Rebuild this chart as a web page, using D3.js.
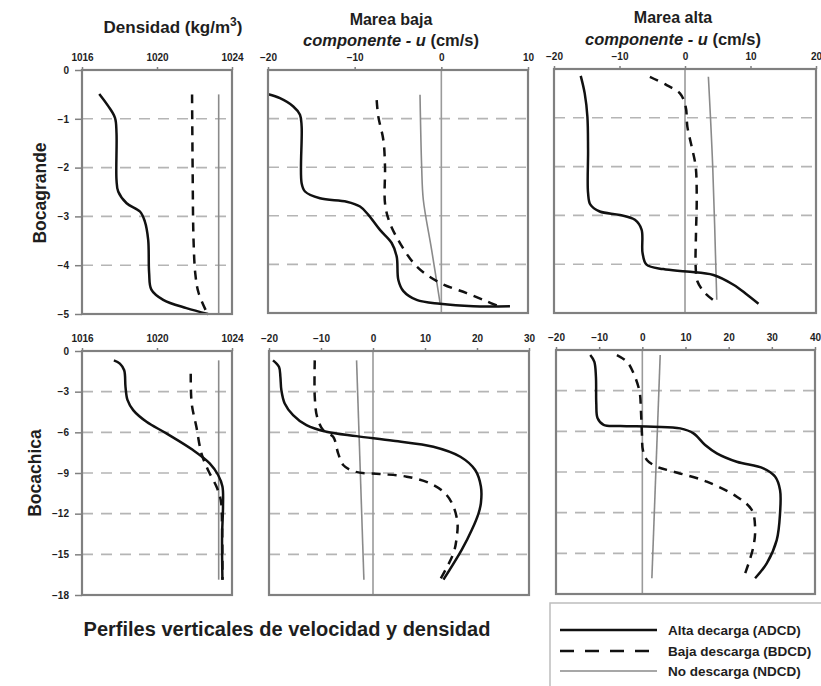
<!DOCTYPE html>
<html><head><meta charset="utf-8">
<script src="https://cdn.jsdelivr.net/npm/d3@7"></script>
<style>body{margin:0;background:#fff}svg{display:block;font-family:"Liberation Sans",Arial,sans-serif}</style>
</head><body><svg id="c" width="821" height="686"></svg>
<script>
// ---------- tick labels ----------
const depthTicksTop = [0,-1,-2,-3,-4,-5];
const depthTicksBottom = [0,-3,-6,-9,-12,-15,-18];
const densTicks = [1016,1020,1024];
const velTicksBajaTop = [-20,-10,0,10];
const velTicksAltaTop = [-20,-10,0,10,20];
const velTicksBajaBot = [-20,-10,0,10,20,30];
const velTicksAltaBot = [-20,-10,0,10,20,30,40];
const seriesNames = ["Alta decarga (ADCD)","Baja descarga (BDCD)","No descarga (NDCD)"];

// ---------- data: [value, depth] ----------
// Bocagrande – densidad
const bgDensADCD = [[1016.92,-0.49],[1017.40,-0.74],[1017.76,-0.98],[1017.84,-1.29],[1017.84,-2.25],[1017.93,-2.49],[1018.38,-2.73],[1019.09,-2.9],[1019.35,-3.1],[1019.53,-3.48],[1019.58,-4.16],[1019.7,-4.5],[1020.33,-4.71],[1021.57,-4.88],[1022.72,-5.0]];
const bgDensBDCD = [[1021.87,-0.5],[1021.9,-2.0],[1021.95,-3.5],[1022.05,-4.2],[1022.22,-4.57],[1022.67,-4.98]];
const bgDensNDCD = [[1023.29,-0.5],[1023.29,-5.0]];
// Bocagrande – marea baja
const bgBajaADCD = [[-19.96,-0.5],[-18.62,-0.58],[-17.08,-0.75],[-16.31,-0.92],[-16.12,-1.16],[-16.12,-2.33],[-15.73,-2.5],[-14.0,-2.64],[-10.92,-2.71],[-9.38,-2.81],[-8.42,-2.98],[-7.08,-3.29],[-5.73,-3.56],[-5.15,-3.84],[-4.96,-4.32],[-4.38,-4.55],[-2.85,-4.73],[-0.15,-4.81],[3.69,-4.86],[7.92,-4.86]];
const bgBajaBDCD = [[-7.46,-0.62],[-7.27,-0.96],[-6.69,-1.44],[-6.5,-1.99],[-6.5,-2.74],[-6.0,-3.12],[-4.77,-3.56],[-2.85,-4.04],[-0.15,-4.38],[2.92,-4.59],[5.23,-4.76],[6.58,-4.86]];
const bgBajaNDCD = [[-2.46,-0.51],[-2.27,-1.99],[-2.08,-2.67],[-1.12,-3.7],[-0.15,-4.79]];
// Bocagrande – marea alta
const bgAltaADCD = [[-15.92,-0.14],[-15.31,-0.5],[-14.9,-0.98],[-14.8,-1.66],[-14.8,-2.54],[-14.44,-2.78],[-13.01,-2.92],[-9.95,-2.99],[-7.65,-3.09],[-6.63,-3.29],[-6.48,-3.77],[-5.87,-4.01],[-3.32,-4.1],[0.26,-4.15],[4.34,-4.22],[7.4,-4.42],[9.44,-4.62],[11.22,-4.81]];
const bgAltaBDCD = [[-5.36,-0.16],[-2.81,-0.33],[-0.77,-0.5],[0.1,-0.77],[0.36,-1.18],[1.02,-1.59],[1.63,-2.0],[1.79,-2.68],[1.68,-3.36],[1.63,-4.05],[1.89,-4.35],[3.06,-4.59],[5.1,-4.81]];
const bgAltaNDCD = [[3.57,-0.16],[4.23,-2.0],[4.85,-4.73]];
// Bocachica – densidad
const bcDensADCD = [[1017.7,-0.69],[1018.02,-0.93],[1018.25,-1.42],[1018.32,-2.65],[1018.43,-3.63],[1018.73,-4.36],[1019.44,-5.22],[1020.5,-6.08],[1021.92,-7.31],[1022.81,-8.29],[1023.26,-9.15],[1023.49,-10.0],[1023.52,-11.48],[1023.47,-13.68],[1023.49,-16.87]];
const bcDensBDCD = [[1021.8,-1.67],[1021.85,-3.87],[1022.1,-5.59],[1022.37,-7.55],[1022.72,-8.78],[1023.17,-10.0],[1023.4,-10.99],[1023.47,-12.95],[1023.49,-16.87]];
const bcDensNDCD = [[1023.29,-0.69],[1023.29,-16.87]];
// Bocachica – marea baja
const bcBajaADCD = [[-19.23,-0.69],[-18.07,-1.18],[-17.81,-1.91],[-17.62,-2.89],[-16.98,-3.87],[-15.37,-4.73],[-12.8,-5.47],[-8.95,-5.96],[-3.16,-6.28],[3.9,-6.62],[11.6,-7.06],[16.8,-7.8],[19.65,-8.78],[20.75,-10.0],[20.75,-11.23],[20.3,-11.97],[19.01,-13.19],[17.08,-14.66],[13.55,-16.87]];
const bcBajaBDCD = [[-11.2,-0.69],[-11.2,-3.38],[-10.75,-4.86],[-9.59,-5.84],[-7.66,-6.33],[-6.7,-7.55],[-5.73,-8.41],[-3.48,-8.9],[1.34,-9.07],[6.48,-9.27],[10.98,-9.76],[13.87,-10.5],[15.48,-11.48],[16.25,-12.7],[16.12,-13.68],[15.48,-14.91],[12.9,-16.87]];
const bcBajaNDCD = [[-3.16,-0.69],[-1.75,-16.87]];
// Bocachica – marea alta
const bcAltaADCD = [[-12.06,-0.37],[-11.13,-0.86],[-10.75,-1.97],[-10.67,-3.93],[-10.36,-5.04],[-8.97,-5.53],[-5.12,-5.61],[2.6,-5.66],[8.77,-5.78],[11.85,-6.15],[14.55,-7.01],[17.25,-7.62],[21.88,-8.24],[28.04,-8.73],[30.74,-9.34],[31.9,-10.33],[31.9,-12.05],[31.13,-14.02],[28.82,-15.74],[26.12,-16.84]];
const bcAltaBDCD = [[-5.89,-0.37],[-3.57,-0.86],[-2.03,-1.72],[-0.64,-3.07],[-0.33,-4.43],[-0.1,-6.15],[0.13,-7.38],[1.05,-8.11],[3.37,-8.61],[7.22,-8.97],[14.93,-9.71],[21.88,-10.82],[25.35,-11.8],[26.12,-13.03],[25.73,-14.51],[23.42,-16.84]];
const bcAltaNDCD = [[4.14,-0.37],[2.21,-16.84]];

// ---------- layout ----------
const panels = [
  {box:[82,232,70,314], xdom:[1016,1024], ydom:[0,-5], xt:densTicks, yt:depthTicksTop, left:true, zero:false, s:[bgDensADCD,bgDensBDCD,bgDensNDCD]},
  {box:[268,528,70,313], xdom:[-20,10], ydom:[0,-5], xt:velTicksBajaTop, yt:depthTicksTop, left:false, zero:true, s:[bgBajaADCD,bgBajaBDCD,bgBajaNDCD]},
  {box:[554,816,69,313], xdom:[-20,20], ydom:[0,-5], xt:velTicksAltaTop, yt:depthTicksTop, left:false, zero:true, s:[bgAltaADCD,bgAltaBDCD,bgAltaNDCD]},
  {box:[82,232,351,595], xdom:[1016,1024], ydom:[0,-18], xt:densTicks, yt:depthTicksBottom, left:true, zero:false, s:[bcDensADCD,bcDensBDCD,bcDensNDCD]},
  {box:[269,529,351,595], xdom:[-20,30], ydom:[0,-18], xt:velTicksBajaBot, yt:depthTicksBottom, left:false, zero:true, s:[bcBajaADCD,bcBajaBDCD,bcBajaNDCD]},
  {box:[556,815,350,594], xdom:[-20,40], ydom:[0,-18], xt:velTicksAltaBot, yt:depthTicksBottom, left:false, zero:true, s:[bcAltaADCD,bcAltaBDCD,bcAltaNDCD]}
];
const styles = [
  {stroke:"#111", w:2.5, dash:null},
  {stroke:"#111", w:2.5, dash:"9,7"},
  {stroke:"#8a8a8a", w:1.6, dash:null}
];
const TXT = "#1e1e1e";
const svg = d3.select("#c");

panels.forEach(p => {
  const [x0,x1,y0,y1] = p.box;
  const x = d3.scaleLinear().domain(p.xdom).range([x0,x1]);
  const y = d3.scaleLinear().domain(p.ydom).range([y0,y1]);
  const g = svg.append("g");
  // grid
  g.selectAll("line.grid").data(p.yt.slice(1,-1)).join("line")
    .attr("x1", x0).attr("x2", x1).attr("y1", d=>y(d)).attr("y2", d=>y(d))
    .attr("stroke","#b5b5b5").attr("stroke-width",1.6).attr("stroke-dasharray","11,8");
  // zero line
  if (p.zero) g.append("line").attr("x1",x(0)).attr("x2",x(0)).attr("y1",y0).attr("y2",y1)
      .attr("stroke","#9a9a9a").attr("stroke-width",1.6);
  // top axis
  const ax = g.append("g").attr("transform",`translate(0,${y0})`)
    .call(d3.axisTop(x).tickValues(p.xt).tickSizeInner(3).tickSizeOuter(0).tickPadding(6).tickFormat(d3.format("d")));
  ax.select(".domain").remove();
  ax.selectAll("line").attr("stroke","#808080").attr("stroke-width",1.5);
  ax.selectAll("text").attr("font-size",10).attr("font-weight","bold").attr("fill",TXT)
    .attr("font-family","'Liberation Sans',Arial,sans-serif");
  // left axis
  if (p.left) {
    const ay = g.append("g").attr("transform",`translate(${x0},0)`)
      .call(d3.axisLeft(y).tickValues(p.yt).tickSizeInner(7).tickSizeOuter(0).tickPadding(6).tickFormat(d3.format("d")));
    ay.select(".domain").remove();
    ay.selectAll("line").attr("stroke","#808080").attr("stroke-width",1.5);
    ay.selectAll("text").attr("font-size",10).attr("font-weight","bold").attr("fill",TXT)
      .attr("font-family","'Liberation Sans',Arial,sans-serif");
  }
  // series
  const line = d3.line().x(d=>x(d[0])).y(d=>y(d[1])).curve(d3.curveCatmullRom.alpha(0.5));
  [2,1,0].forEach(i => {
    const st = styles[i];
    g.append("path").datum(p.s[i]).attr("d", line).attr("fill","none")
      .attr("stroke", st.stroke).attr("stroke-width", st.w)
      .attr("stroke-dasharray", st.dash).attr("stroke-linecap","butt").attr("stroke-linejoin","round");
  });
  // frame
  g.append("rect").attr("x",x0).attr("y",y0).attr("width",x1-x0).attr("height",y1-y0)
    .attr("fill","none").attr("stroke","#808080").attr("stroke-width",2.2);
});

// ---------- titles ----------
const t1 = svg.append("text").attr("x",173).attr("y",33).attr("text-anchor","middle")
  .attr("font-size",17).attr("font-weight","bold").attr("fill",TXT);
t1.append("tspan").text("Densidad (kg/m");
t1.append("tspan").attr("font-size",12).attr("dy",-7).text("3");
t1.append("tspan").attr("dy",7).text(")");

function velTitle(cx, y1, y2, label) {
  svg.append("text").attr("x",cx).attr("y",y1).attr("text-anchor","middle")
    .attr("font-size",16).attr("font-weight","bold").attr("fill",TXT).text(label);
  const t = svg.append("text").attr("x",cx).attr("y",y2).attr("text-anchor","middle")
    .attr("font-size",16.5).attr("font-weight","bold").attr("fill",TXT);
  t.append("tspan").attr("font-style","italic").text("componente - u");
  t.append("tspan").text(" (cm/s)");
}
velTitle(391, 25, 46, "Marea baja");
velTitle(673, 23, 45, "Marea alta");

svg.append("text").attr("transform","translate(46,193) rotate(-90)").attr("text-anchor","middle")
  .attr("font-size",17.5).attr("font-weight","bold").attr("fill",TXT).text("Bocagrande");
svg.append("text").attr("transform","translate(41,473) rotate(-90)").attr("text-anchor","middle")
  .attr("font-size",17.5).attr("font-weight","bold").attr("fill",TXT).text("Bocachica");

svg.append("text").attr("x",287).attr("y",636).attr("text-anchor","middle")
  .attr("font-size",20).attr("font-weight","bold").attr("fill",TXT)
  .text("Perfiles verticales de velocidad y densidad");

// ---------- legend ----------
const lg = svg.append("g");
lg.append("rect").attr("x",550).attr("y",603).attr("width",300).attr("height",120)
  .attr("fill","#fff").attr("stroke","#bdbdbd").attr("stroke-width",1.5);
const legY = [630,651,671];
seriesNames.forEach((name,i) => {
  const st = styles[i];
  lg.append("line").attr("x1",560).attr("x2",657).attr("y1",legY[i]).attr("y2",legY[i])
    .attr("stroke",st.stroke).attr("stroke-width",st.w).attr("stroke-dasharray",st.dash ? "14,11" : null);
  lg.append("text").attr("x",668).attr("y",legY[i]+4.5).attr("font-size",13.5).attr("font-weight","bold")
    .attr("fill",TXT).text(name);
});
</script></body></html>
